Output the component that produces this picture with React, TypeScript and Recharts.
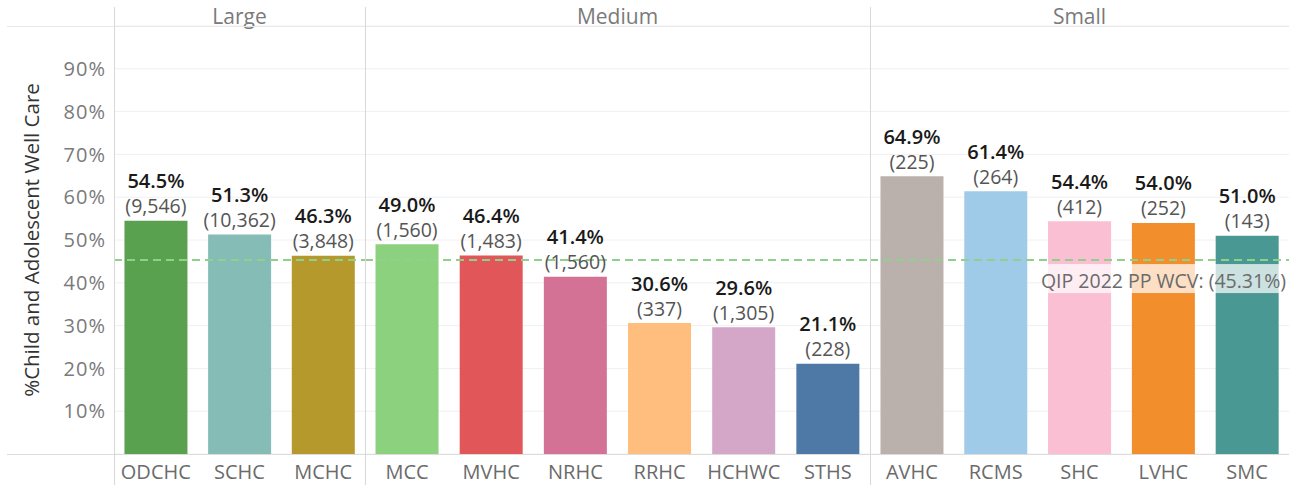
import React from 'react';
import { BarChart, Bar, XAxis, YAxis, CartesianGrid, ReferenceLine, LabelList, Cell } from 'recharts';

// clinic size group, clinic, rate and denominator
const GROUPS = ['Large', 'Medium', 'Small'];
const CLINIC_GROUP = ['Large', 'Large', 'Large', 'Medium', 'Medium', 'Medium', 'Medium', 'Medium', 'Medium', 'Small', 'Small', 'Small', 'Small', 'Small'];
const CLINICS = ['ODCHC', 'SCHC', 'MCHC', 'MCC', 'MVHC', 'NRHC', 'RRHC', 'HCHWC', 'STHS', 'AVHC', 'RCMS', 'SHC', 'LVHC', 'SMC'];
const RATES = [0.545, 0.513, 0.463, 0.49, 0.464, 0.414, 0.306, 0.296, 0.211, 0.649, 0.614, 0.544, 0.54, 0.51];
const COUNTS = [9546, 10362, 3848, 1560, 1483, 1560, 337, 1305, 228, 225, 264, 412, 252, 143];
const Y_TICKS = [0.1, 0.2, 0.3, 0.4, 0.5, 0.6, 0.7, 0.8, 0.9];
const QIP_TARGET = 0.4531;

const COLORS = ['#59a14f', '#86bcb6', '#b6992d', '#8cd17d', '#e15759', '#d37295', '#ffbe7d', '#d4a6c8', '#4e79a7', '#bab0ac', '#a0cbe8', '#fabfd2', '#f28e2b', '#499894'];

const FONT = '"Open Sans", sans-serif';
const TOP = 7;
const HEIGHT = 478;
// panel x ranges (first one includes the y axis)
const PANELS = [
  { left: 7, width: 358, axis: 107 },
  { left: 365, width: 505, axis: 0 },
  { left: 870, width: 419, axis: 0 },
];

const pctLabel = (props: any) => {
  const { x, y, width, value } = props;
  return (
    <text x={x + width / 2} y={y - 40} textAnchor="middle" dominantBaseline="central"
      fontFamily={FONT} fontSize={20} fontWeight={600} fill="#1a1a1a">
      {(value * 100).toFixed(1)}%
    </text>
  );
};

const countLabel = (props: any) => {
  const { x, y, width, value } = props;
  return (
    <text x={x + width / 2} y={y - 15} textAnchor="middle" dominantBaseline="central"
      fontFamily={FONT} fontSize={19.5} fill="#555">
      ({Number(value).toLocaleString('en-US')})
    </text>
  );
};

const targetLabel = (props: any) => {
  const { viewBox } = props;
  const right = viewBox.x + viewBox.width - 3;
  return (
    <g>
      <rect x={right - 245} y={viewBox.y + 4} width={247} height={29} fill="#fff" fillOpacity={0.72} />
      <text x={right} y={viewBox.y + 20} textAnchor="end" dominantBaseline="central"
        fontFamily={FONT} fontSize={19.5} fill="#6b6b6b">
        QIP 2022 PP WCV: (45.31%)
      </text>
    </g>
  );
};

function Panel({ group, idx }: { group: string; idx: number }) {
  const p = PANELS[idx];
  const rows = CLINICS.map((name, i) => ({ name, rate: RATES[i], count: COUNTS[i], color: COLORS[i], group: CLINIC_GROUP[i] }))
    .filter((r) => r.group === group);
  return (
    <div style={{ position: 'absolute', left: p.left, top: TOP }}>
      <BarChart width={p.width} height={HEIGHT} data={rows} margin={{ top: 19, right: 0, bottom: 0, left: 0 }} barCategoryGap="12.5%">
        <CartesianGrid horizontal vertical={false} stroke="#f0f0f0" />
        <XAxis dataKey="name" height={31} tickLine={false} axisLine={false} tickSize={0} tickMargin={11}
          interval={0} tick={{ fontFamily: FONT, fontSize: 20, fill: '#6b6b6b' }} />
        <YAxis domain={[0, 1]} ticks={Y_TICKS} hide={p.axis === 0} width={p.axis || 0}
          tickLine={false} axisLine={false} tickSize={0} tickMargin={8}
          tickFormatter={(v: number) => `${Math.round(v * 100)}%`}
          tick={{ fontFamily: FONT, fontSize: 20, fill: '#7a7a7a', letterSpacing: 1 }}
          label={p.axis ? { value: '%Child and Adolescent Well Care', angle: -90, position: 'insideLeft', offset: 25,
            style: { textAnchor: 'middle', fontFamily: FONT, fontSize: 20.5, fill: '#333' } } : undefined} />
        <Bar dataKey="rate" isAnimationActive={false}>
          {rows.map((r) => <Cell key={r.name} fill={r.color} />)}
          <LabelList dataKey="rate" content={pctLabel} />
          <LabelList dataKey="count" content={countLabel} />
        </Bar>
        <ReferenceLine y={QIP_TARGET} stroke="#8fd18a" strokeWidth={2} strokeDasharray="8 5"
          label={idx === 2 ? targetLabel : undefined} />
      </BarChart>
    </div>
  );
}

export default function App() {
  const line = { position: 'absolute' as const, background: '#e2e2e2' };
  return (
    <div style={{ position: 'fixed', left: 0, top: 0, width: 1289, height: 485, background: '#fff', overflow: 'hidden' }}>
      {GROUPS.map((g, i) => <Panel key={g} group={g} idx={i} />)}
      {/* header row with size groups */}
      {GROUPS.map((g, i) => {
        const left = i === 0 ? 114 : PANELS[i].left;
        const right = PANELS[i].left + PANELS[i].width;
        return (
          <div key={g} style={{ position: 'absolute', left, width: right - left, top: 3, textAlign: 'center',
            fontFamily: FONT, fontSize: 21, color: '#7a7a7a', lineHeight: '26px' }}>{g}</div>
        );
      })}
      <div style={{ ...line, left: 7, top: 26, width: 1282, height: 1, background: '#e8e8e8' }} />
      <div style={{ ...line, left: 7, top: 454, width: 1282, height: 1, background: '#dcdcdc' }} />
      {[114, 365, 870].map((x) => (
        <div key={x} style={{ ...line, left: x, top: 7, width: 1, height: 478, background: '#d8d8d8' }} />
      ))}
    </div>
  );
}
